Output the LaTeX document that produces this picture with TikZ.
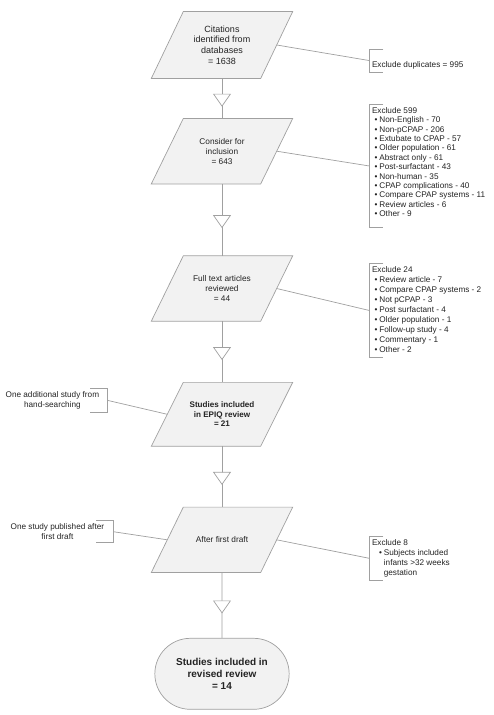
\documentclass[tikz,border=0pt]{standalone}
\usepackage{fontspec}
\setmainfont{Liberation Sans}
\usetikzlibrary{shapes,positioning,backgrounds}

\definecolor{boxfill}{RGB}{242,242,242}
\definecolor{linegray}{RGB}{160,160,160}
\definecolor{ink}{RGB}{35,35,35}

\newcommand{\exitem}{\hspace*{2.5pt}\textbullet\hspace{2pt}}
\newcommand{\exwide}{\hspace*{7pt}\textbullet\hspace{2pt}}
\newcommand{\exwrap}{\hspace*{7pt}\phantom{\textbullet}\hspace{2pt}}

\begin{document}
\begin{tikzpicture}[x=1pt,y=1pt,text=ink,font=\fontsize{8.3}{10}\selectfont]
  \tikzstyle{stage}=[rectangle,minimum width=109pt,minimum height=65pt,
              inner sep=0pt,align=center]
  \tikzstyle{final}=[rounded rectangle,rounded rectangle arc length=180,draw=linegray,
              fill=boxfill,line width=0.7pt,minimum width=141pt,minimum height=71pt,
              align=center,font=\bfseries\fontsize{10}{12}\selectfont]
  \tikzstyle{tri}=[isosceles triangle,isosceles triangle apex angle=70,
              shape border rotate=270,draw=linegray,fill=white,line width=0.7pt,
              inner sep=0pt,minimum size=12pt]
  \tikzstyle{note}=[align=left,inner xsep=2.5pt,inner ysep=3pt,
              font=\fontsize{8.2}{9.8}\selectfont]
  \tikzstyle{conn}=[draw=linegray,line width=0.7pt]
  \useasboundingbox (0,0) rectangle (493,-715);

    \node [stage,minimum height=66.5pt,font=\fontsize{9}{10.7}\selectfont] (cit) at (222,-45) {Citations\\identified from\\databases\\= 1638};
    \node [stage,node distance=106.2pt,below of=cit] (cons) {Consider for\\inclusion\\= 643};
    \node [stage,node distance=137.3pt,below of=cons] (full) {Full text articles\\reviewed\\= 44};
    \node [stage,node distance=125.8pt,below of=full,minimum height=63.5pt,font=\bfseries\fontsize{8.1}{9.7}\selectfont] (epiq) {Studies included\\in EPIQ review\\= 21};
    \node [stage,node distance=125.5pt,below of=epiq] (draft) {After first draft};
    \node [final,node distance=134pt,below of=draft] (rev) {Studies included in\\revised review\\= 14};

    % slanted boxes behind the stage nodes
    \begin{pgfonlayer}{background}
      \foreach \n in {cit,cons,full,epiq,draft}
        \filldraw [conn,fill=boxfill] ([xshift=-16pt]\n.south west) -- ([xshift=16pt]\n.north west)
          -- ([xshift=16pt]\n.north east) -- ([xshift=-16pt]\n.south east) -- cycle;
    \end{pgfonlayer}

    \node [note,anchor=north west,inner ysep=2.5pt,text height=16pt,text depth=1.7pt] (dup) at (369.3,-49) {Exclude duplicates = 995};
    \node [note,anchor=north west,inner ysep=2.6pt,text depth=8pt,font=\fontsize{8.2}{9.4}\selectfont] (ex599) at (369.3,-104.5) {Exclude 599\\\exitem Non-English - 70\\\exitem Non-pCPAP - 206\\\exitem Extubate to CPAP - 57\\\exitem Older population - 61\\\exitem Abstract only - 61\\\exitem Post-surfactant - 43\\\exitem Non-human - 35\\\exitem CPAP complications - 40\\\exitem Compare CPAP systems - 11\\\exitem Review articles - 6\\\exitem Other - 9};
    \node [note,anchor=north west,inner ysep=3pt,text depth=2pt,font=\fontsize{8.2}{10}\selectfont] (ex24) at (369.3,-263.3) {Exclude 24\\\exitem Review article - 7\\\exitem Compare CPAP systems - 2\\\exitem Not pCPAP - 3\\\exitem Post surfactant - 4\\\exitem Older population - 1\\\exitem Follow-up study - 4\\\exitem Commentary - 1\\\exitem Other - 2};
    \node [note,anchor=west] (ex8) at (369.3,-558.3) {Exclude 8\\\exwide Subjects included\\\exwrap infants >32 weeks\\\exwrap gestation};
    \node [note,anchor=east,align=center,inner xsep=8pt] (hand) at (107.3,-400.3) {One additional study from\\hand-searching};
    \node [note,anchor=east,align=center,inner xsep=9pt] (late) at (113.3,-531.7) {One study published after\\first draft};

    \draw [conn] (cit) -- node [tri] {} (cons);
    \draw [conn] (cons) -- node [tri] {} (full);
    \draw [conn] (full) -- node [tri] {} (epiq);
    \draw [conn] (epiq) -- node [tri] {} (draft);
    \draw [conn] (draft) -- node [tri] {} (rev);

    \draw [conn] (cit.east) -- (dup.west);
    \draw [conn] (cons.east) -- (ex599.west);
    \draw [conn] (full.east) -- (ex24.west);
    \draw [conn] (draft.east) -- (ex8.west);
    \draw [conn] (hand.east) -- (epiq.west);
    \draw [conn] (late.east) -- (draft.west);

    % brackets of the notes
    \foreach \n in {dup,ex599,ex24,ex8}
      \draw [conn] ([xshift=14pt]\n.north west) -- (\n.north west) -- (\n.south west) -- ([xshift=14pt]\n.south west);
    \foreach \n in {hand,late}
      \draw [conn] ([xshift=-17pt]\n.north east) -- (\n.north east) -- (\n.south east) -- ([xshift=-17pt]\n.south east);
\end{tikzpicture}
\end{document}
